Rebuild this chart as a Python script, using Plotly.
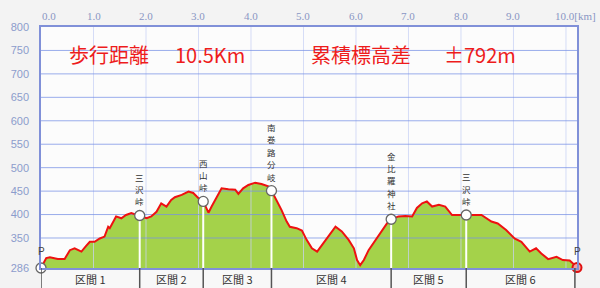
import plotly.graph_objects as go

# ---- data ----
dist_km = [0.00, 0.10, 0.17, 0.32, 0.45, 0.55, 0.64, 0.70, 0.77, 0.86, 0.93, 1.02, 1.12, 1.21,
           1.28, 1.31, 1.37, 1.43, 1.53, 1.62, 1.72, 1.82, 1.88, 2.01, 2.10, 2.20, 2.29, 2.39,
           2.48, 2.55, 2.68, 2.81, 2.90, 3.00, 3.09, 3.19, 3.25, 3.35, 3.44, 3.57, 3.70, 3.76,
           3.85, 3.95, 4.08, 4.20, 4.33, 4.39, 4.49, 4.58, 4.68, 4.74, 4.87, 4.97, 5.06, 5.16,
           5.26, 5.35, 5.48, 5.61, 5.73, 5.86, 5.96, 6.02, 6.08, 6.15, 6.24, 6.37, 6.50, 6.59,
           6.67, 6.81, 6.94, 7.07, 7.16, 7.26, 7.35, 7.45, 7.58, 7.70, 7.83, 7.91, 8.10, 8.26,
           8.39, 8.58, 8.70, 8.86, 9.02, 9.15, 9.31, 9.43, 9.53, 9.66, 9.82, 9.94, 10.07, 10.18,
           10.21]
elev_m = [286, 307, 309, 305, 305, 324, 328, 324, 321, 333, 342, 342, 349, 353,
          374, 371, 385, 396, 392, 399, 403, 399, 398, 392, 396, 406, 424, 417,
          431, 437, 442, 449, 446, 435, 428, 404, 417, 438, 456, 454, 453, 444,
          456, 463, 468, 465, 460, 451, 431, 410, 385, 374, 371, 366, 346, 328,
          321, 335, 353, 374, 364, 346, 328, 303, 292, 303, 324, 346, 367, 381,
          390, 396, 397, 396, 414, 424, 428, 417, 421, 417, 399, 399, 399, 399,
          399, 385, 381, 367, 349, 342, 321, 328, 317, 305, 310, 303, 302, 291,
          287]

wp_names = ["三沢峠", "西山峠", "南巻路分岐", "金比羅神社", "三沢峠"]
wp_km = [1.88, 3.09, 4.39, 6.67, 8.10]
wp_elev = [398, 428, 451, 390, 399]

section_labels = ["区間 1", "区間 2", "区間 3", "区間 4", "区間 5", "区間 6"]
section_bounds = [0.0, 1.88, 3.09, 4.39, 6.67, 8.10, 10.17]

x_ticks = [0, 1, 2, 3, 4, 5, 6, 7, 8, 9, 10]
x_tick_labels = ["0.0", "1.0", "2.0", "3.0", "4.0", "5.0", "6.0", "7.0", "8.0", "9.0", "10.0[km]"]
y_ticks = [286, 350, 400, 450, 500, 550, 600, 650, 700, 750, 800]
y_tick_labels = ["286", "350", "400", "450", "500", "550", "600", "650", "700", "750", "800"]

title_parts = ["歩行距離", "10.5Km", "累積標高差", "±792m"]
title_x_px = [67, 173, 309, 442]

X_MAX = 10.21
Y_MIN, Y_MAX = 286, 800
W, H = 600, 288
ML, MR, MT, MB = 41, 23, 27, 20
PLOT_W = W - ML - MR
PLOT_H = H - MT - MB

fig = go.Figure()

# green fill
fig.add_trace(go.Scatter(x=dist_km, y=elev_m, mode="lines", line=dict(width=0, color="rgba(0,0,0,0)"),
                         fill="tozeroy", fillcolor="#a4d24a", hoverinfo="skip", showlegend=False))

# grid overlay (drawn over the fill)
gx, gy = [], []
for k in x_ticks[1:]:
    gx += [k, k, None]
    gy += [Y_MIN, Y_MAX, None]
fig.add_trace(go.Scatter(x=gx, y=gy, mode="lines", line=dict(width=1, color="rgba(200,210,245,0.75)"),
                         hoverinfo="skip", showlegend=False))
hx, hy = [], []
for v in y_ticks[1:-1]:
    hx += [0, X_MAX, None]
    hy += [v, v, None]
fig.add_trace(go.Scatter(x=hx, y=hy, mode="lines", line=dict(width=1, color="rgba(120,145,230,0.75)"),
                         hoverinfo="skip", showlegend=False))

# white drop lines under waypoints
wx, wy = [], []
for k, e in zip(wp_km, wp_elev):
    wx += [k, k, None]
    wy += [Y_MIN, e, None]
fig.add_trace(go.Scatter(x=wx, y=wy, mode="lines", line=dict(width=2, color="white"),
                         hoverinfo="skip", showlegend=False))

# red profile line
fig.add_trace(go.Scatter(x=dist_km, y=elev_m, mode="lines", line=dict(width=2, color="#ee1111"),
                         hoverinfo="skip", showlegend=False))

# waypoint circles
fig.add_trace(go.Scatter(x=[dist_km[0]] + wp_km, y=[elev_m[0]] + wp_elev, mode="markers",
                         marker=dict(size=10, color="white", line=dict(width=1.3, color="#666666")),
                         cliponaxis=False, hoverinfo="skip", showlegend=False))
fig.add_trace(go.Scatter(x=[dist_km[-1]], y=[elev_m[-1]], mode="markers",
                         marker=dict(size=9, color="#f4a0a0", line=dict(width=2, color="#e01010")),
                         cliponaxis=False, hoverinfo="skip", showlegend=False))

annotations = []
# waypoint vertical labels: one character per annotation, stacked upwards
CH_SIZE = 8.5
CH_PITCH = 12.4
for name, k, e in zip(wp_names, wp_km, wp_elev):
    chars = list(name)
    n = len(chars)
    for i, ch in enumerate(chars):
        annotations.append(dict(x=k, y=e, xref="x", yref="y", text=ch,
                                showarrow=False, yanchor="bottom", borderpad=0,
                                yshift=7 + (n - 1 - i) * CH_PITCH,
                                font=dict(family="Noto Sans CJK JP", size=CH_SIZE, color="#333333")))
# P labels
for k, e in [(dist_km[0], elev_m[0]), (dist_km[-1], elev_m[-1])]:
    annotations.append(dict(x=k, y=e, xref="x", yref="y", text="P", showarrow=False,
                            yanchor="bottom", yshift=9,
                            font=dict(family="Liberation Sans", size=10, color="#444444")))
# x tick labels (top)
for k, lab in zip(x_ticks, x_tick_labels):
    if lab.endswith("[km]"):
        annotations.append(dict(x=k, y=1, xref="x", yref="paper", text=lab, showarrow=False,
                                xanchor="left", yanchor="bottom", xshift=-13, yshift=3,
                                font=dict(family="Liberation Serif", size=11, color="#8a96c4")))
    else:
        annotations.append(dict(x=k, y=1, xref="x", yref="paper", text=lab, showarrow=False,
                                xanchor="center", yanchor="bottom", xshift=8 if k == 0 else 0, yshift=3,
                                font=dict(family="Liberation Serif", size=11, color="#8a96c4")))
# title texts
for t, px in zip(title_parts, title_x_px):
    annotations.append(dict(x=(px - ML) / PLOT_W, y=1 - (54 - MT) / PLOT_H, xref="paper", yref="paper",
                            text=t, showarrow=False, xanchor="left", yanchor="middle",
                            font=dict(family="Noto Sans CJK JP", size=20, color="#ee1c1c")))
# section labels
row_h = MB / PLOT_H
for i, lab in enumerate(section_labels):
    mid = (section_bounds[i] + section_bounds[i + 1]) / 2
    annotations.append(dict(x=mid, y=-row_h / 2 - 0.005, xref="x", yref="paper", text=lab, showarrow=False,
                            xanchor="center", yanchor="middle",
                            font=dict(family="Noto Sans CJK JP", size=11, color="#333333")))

shapes = [dict(type="rect", xref="x", yref="paper", x0=0, x1=section_bounds[-1], y0=-row_h - 0.02, y1=0,
               fillcolor="#f8f8f8", line=dict(width=0), layer="below")]
for b in section_bounds:
    shapes.append(dict(type="line", xref="x", yref="paper", x0=b, x1=b, y0=-row_h - 0.02, y1=0,
                       line=dict(width=1.5, color="#555555")))

fig.update_layout(
    width=W, height=H,
    margin=dict(l=ML, r=MR, t=MT, b=MB),
    paper_bgcolor="#f3f3f3", plot_bgcolor="#fcfcfc",
    annotations=annotations, shapes=shapes,
    showlegend=False,
)
fig.update_xaxes(range=[0, X_MAX], side="top", showticklabels=False, showgrid=False, zeroline=False,
                 showline=True, mirror=True, linecolor="#8090d8", linewidth=1.5, fixedrange=True)
fig.update_yaxes(range=[Y_MIN, Y_MAX], tickvals=y_ticks, ticktext=y_tick_labels, showgrid=False,
                 zeroline=False, showline=True, mirror=True, linecolor="#8090d8", linewidth=1.5,
                 ticklabelstandoff=8,
                 tickfont=dict(family="Liberation Sans", size=11, color="#8c9ccc"), fixedrange=True)

fig.write_html("out.html")
